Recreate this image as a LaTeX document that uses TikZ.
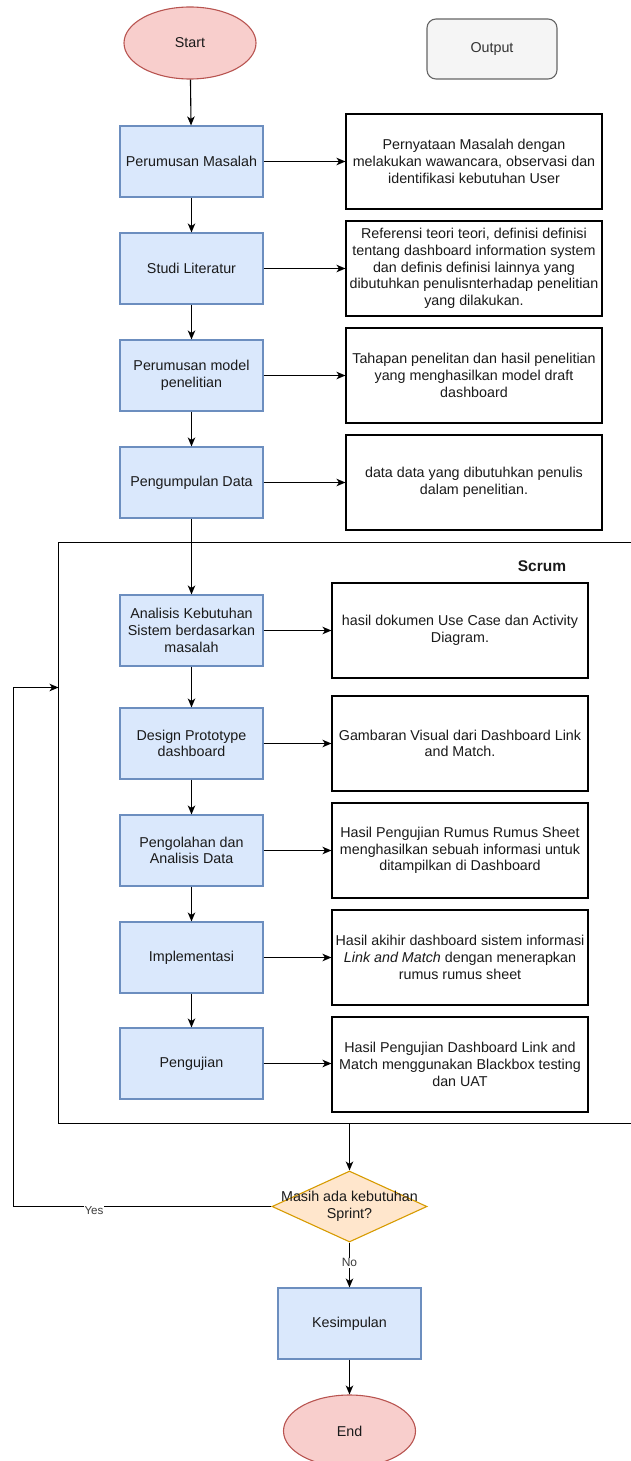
\documentclass[tikz,border=0pt]{standalone}
\usepackage{fontspec}
\setmainfont{Liberation Sans}
\usetikzlibrary{shapes.geometric,arrows.meta}
\definecolor{bluefill}{HTML}{DAE8FC}
\definecolor{bluestroke}{HTML}{6C8EBF}
\definecolor{redfill}{HTML}{F8CECC}
\definecolor{redstroke}{HTML}{B85450}
\definecolor{orfill}{HTML}{FFE6CC}
\definecolor{orstroke}{HTML}{D79B00}
\definecolor{grayfill}{HTML}{F5F5F5}
\definecolor{graystroke}{HTML}{666666}
\definecolor{textc}{HTML}{1A1A1A}
\begin{document}
\begin{tikzpicture}[x=1pt,y=-1pt,
  base/.style={font=\fontsize{14.3}{16.7}\selectfont, text=textc, align=center, line width=1.1pt},
  proc/.style={base, draw=bluestroke, fill=bluefill, minimum width=143pt, minimum height=71pt, inner sep=0pt},
  outbox/.style={base, draw=black, fill=white, minimum width=256pt, minimum height=95pt, inner sep=0pt},
  term/.style={base, ellipse, draw=redstroke, fill=redfill, minimum width=132pt, minimum height=72pt, inner sep=0pt},
  decision/.style={diamond, draw=orstroke, fill=orfill, line width=1.1pt, minimum width=155pt, minimum height=71pt, inner sep=0pt, aspect=2.18},
  legend/.style={base, rounded corners=9pt, draw=graystroke, fill=grayfill, text=black!80, minimum width=130pt, minimum height=60pt, inner sep=0pt},
  arr/.style={-{Stealth[length=9pt,width=7.5pt,inset=2.5pt]}, line width=1.1pt, draw=black},
  lbl/.style={font=\fontsize{12}{14}\selectfont, text=textc!85, fill=white, inner sep=0.8pt},
  plain/.style={line width=1.1pt, draw=black}
]
\useasboundingbox (0,0) rectangle (631,1461);

% scrum frame
\coordinate (frTR) at (631,542.5);
\coordinate (frTL) at (58.5,542.5);
\coordinate (frBL) at (58.5,1123.5);
\coordinate (frBR) at (631,1123.5);
\draw[plain] (frTR) -- (frTL) -- (frBL) -- (frBR);
\node[font=\fontsize{15.5}{18}\selectfont\bfseries, text=textc] (scrum) at (542,566) {Scrum};

% terminals and legend
\node[term] (start) at (190,43) {Start};
\node[legend] (output) at (492,49) {Output};

% process boxes
\node[proc] (p1) at (191.5,161.5) {Perumusan Masalah};
\node[proc] (p2) at (191.5,268.5) {Studi Literatur};
\node[proc] (p3) at (191.5,375.5) {Perumusan model\\penelitian};
\node[proc] (p4) at (191.5,482.5) {Pengumpulan Data};
\node[proc] (p5) at (191.5,630.5) {Analisis Kebutuhan\\Sistem berdasarkan\\masalah};
\node[proc] (p6) at (191.5,743.5) {Design Prototype\\dashboard};
\node[proc] (p7) at (191.5,850.5) {Pengolahan dan\\Analisis Data};
\node[proc] (p8) at (191.5,957.5) {Implementasi};
\node[proc] (p9) at (191.5,1063.5) {Pengujian};

% output boxes
\node[outbox] (o1) at (474,161.5) {Pernyataan Masalah dengan\\melakukan wawancara, observasi dan\\identifikasi kebutuhan User};
\node[outbox] (o2) at (474,268.5) {Referensi teori teori, definisi definisi\\tentang dashboard information system\\dan definis definisi lainnya yang\\dibutuhkan penulisnterhadap penelitian\\yang dilakukan.};
\node[outbox] (o3) at (474,375.5) {Tahapan penelitan dan hasil penelitian\\yang menghasilkan model draft\\dashboard};
\node[outbox] (o4) at (474,482.5) {data data yang dibutuhkan penulis\\dalam penelitian.};
\node[outbox] (o5) at (460,630.5) {hasil dokumen Use Case dan Activity\\Diagram.};
\node[outbox] (o6) at (460,743.5) {Gambaran Visual dari Dashboard Link\\and Match.};
\node[outbox] (o7) at (460,850.5) {Hasil Pengujian Rumus Rumus Sheet\\menghasilkan sebuah informasi untuk\\ditampilkan di Dashboard};
\node[outbox] (o8) at (460,957.5) {Hasil akihir dashboard sistem informasi\\\textit{Link and Match} dengan menerapkan\\rumus rumus sheet};
\node[outbox] (o9) at (460,1064.5) {Hasil Pengujian Dashboard Link and\\Match menggunakan Blackbox testing\\dan UAT};

% decision, conclusion, end
\node[decision] (dec) at (349.5,1206.5) {};
\node[base] (dectext) at (dec.center) {Masih ada kebutuhan\\Sprint?};
\node[proc] (kes) at (349.5,1323.5) {Kesimpulan};
\node[term] (end) at (349.5,1431) {End};

% vertical flow
\draw[arr] (start) -- (p1);
\draw[arr] (p1) -- (p2);
\draw[arr] (p2) -- (p3);
\draw[arr] (p3) -- (p4);
\draw[arr] (p4) -- (p5);
\draw[arr] (p5) -- (p6);
\draw[arr] (p6) -- (p7);
\draw[arr] (p7) -- (p8);
\draw[arr] (p8) -- (p9);

% horizontal to outputs
\foreach \i in {1,...,9}{
  \draw[arr] (p\i.east) -- (o\i.west |- p\i.east);
}

% after scrum
\coordinate (frBot) at (349.5,1123.5);
\draw[arr] (frBot) -- (dec.north);
\draw[arr] (dec.south) -- node[lbl, pos=0.45] {No} (kes.north);
\draw[arr] (kes) -- (end);

% loop back
\coordinate (loopB) at (13.5,1206.5);
\coordinate (loopIn) at (58.5,687.5);
\draw[plain] (dec.west) -- (loopB);
\node[lbl, font=\fontsize{11.6}{14}\selectfont] (yes) at (94,1211) {Yes};
\draw[arr] (loopB) |- (loopIn);
\end{tikzpicture}
\end{document}
